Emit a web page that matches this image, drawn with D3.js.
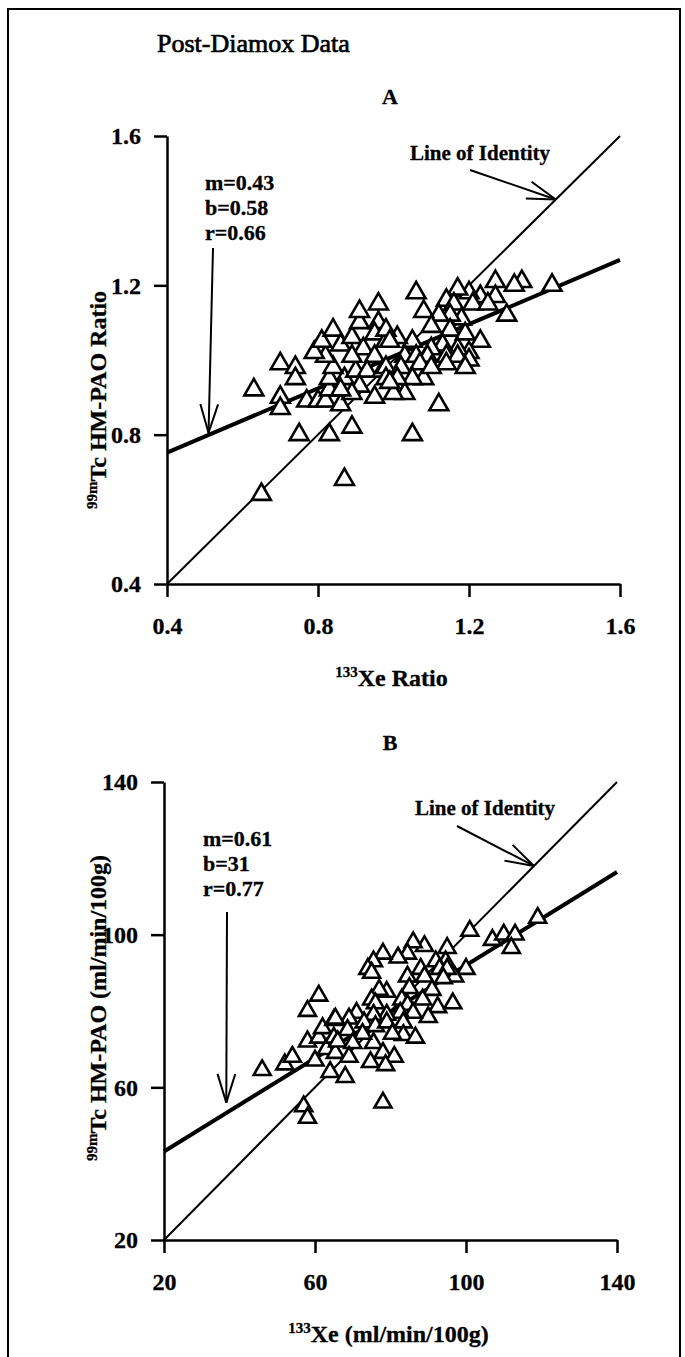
<!DOCTYPE html>
<html>
<head>
<meta charset="utf-8">
<script src="https://cdn.jsdelivr.net/npm/d3@7"></script>
<style>
  body { margin: 0; background: #fff; }
  text { font-family: "Liberation Serif", "Times New Roman", serif; font-weight: bold; fill: #000; stroke: #000; stroke-width: 0.3px; }
</style>
</head>
<body>
<div id="svg_chart"></div>
<script>
///////////// Data //////////////
// panel A: 133Xe ratio (x) vs 99mTc HM-PAO ratio (y)
var a_points = [
  [0.63,0.92],[0.70,0.99],[0.74,0.98],[0.74,0.95],[0.70,0.90],[0.70,0.87],[0.75,0.80],[0.83,0.80],
  [0.89,0.82],[0.87,0.68],[0.65,0.64],[0.77,0.89],[0.80,0.89],[0.82,0.89],[0.86,0.88],[0.83,0.92],
  [0.87,0.95],[0.83,0.95],[0.90,0.97],[0.84,0.98],[0.82,1.01],[0.79,1.02],[0.81,1.05],[0.84,1.08],
  [0.86,1.04],[0.89,1.06],[0.91,1.10],[0.91,1.13],[0.96,1.15],[0.96,1.10],[0.95,1.07],[0.92,1.03],
  [0.89,1.01],[0.95,1.01],[0.93,0.97],[0.91,0.93],[0.95,0.90],[0.89,0.91],[0.97,0.97],[0.98,1.05],
  [0.86,0.92],[1.06,1.18],[1.12,0.88],[1.05,0.80],[1.03,0.91],[1.00,0.91],[1.08,0.95],[1.42,1.20],
  [1.34,1.21],[1.32,1.20],[1.27,1.21],[1.30,1.12],[1.27,1.17],[1.23,1.17],[1.20,1.18],[1.17,1.19],
  [1.14,1.16],[1.16,1.15],[1.21,1.15],[1.25,1.15],[1.18,1.11],[1.15,1.12],[1.12,1.12],[1.08,1.13],
  [1.10,1.09],[1.15,1.08],[1.19,1.07],[1.23,1.05],[1.20,1.02],[1.17,1.03],[1.13,1.04],[1.10,1.03],
  [1.05,1.05],[1.01,1.06],[0.98,1.08],[0.99,1.05],[1.03,1.01],[1.06,1.01],[1.09,1.01],[1.14,1.01],
  [1.17,1.01],[1.20,1.00],[1.14,0.99],[1.19,0.98],[0.98,0.98],[1.02,0.98],[0.98,0.95],[1.07,0.99],
  [1.10,0.98],[1.05,0.95],[1.01,0.95],[0.99,0.94]
];
var a_ticks = [0.4, 0.8, 1.2, 1.6];
var a_fit = [0.43, 0.58, 0.66];   // m, b, r

// panel B: 133Xe flow (x) vs 99mTc HM-PAO flow (y), ml/min/100g
var b_points = [
  [61,84],[58,80],[46,64.5],[52,66],[54,68],[60,67],[58,72],[61,73],[62,75.5],[65,77.6],[64,64],
  [63,70],[65,73],[65.4,69],[101,101],[107,98.6],[110,100],[113,100],[112,96.5],[100,91],[97,89],
  [95,96.5],[94.6,93],[92,93],[89,97],[86,98],[84.5,95],[82,94],[78,95],[75.5,93],[74,91],[75,90],
  [84.5,89],[88,91],[89,89],[93,91],[95,91],[85,86],[91,85.5],[94,88.6],[79,85],[77,85.5],[75,83],
  [76,82],[83,83],[84.5,81.6],[88.5,83],[92.5,81],[96.5,82],[90,78.4],[86,79.5],[82.6,79.5],[79,79],
  [75.5,79],[71,79.5],[69,78],[73,77],[76,76],[79,77],[83.4,77],[83.4,73.7],[86.6,73],[80.5,74],
  [75.5,71.6],[72.6,74],[68.6,75],[65.4,78],[66,72],[70,71.6],[78,69],[81,68],[74.7,66.6],[78.7,65.8],
  [69,68],[68,62.7],[119,104.4],[57,55],[58,52],[78,56]
];
var b_ticks = [20, 60, 100, 140];
var b_fit = [0.61, 31, 0.77];

///////////// Canvas //////////////
const svg_width = 685
const svg_height = 1357

var svg = d3.select('#svg_chart').append('svg')
  .attr('width', svg_width)
  .attr('height', svg_height);

// outer frame of the figure
svg.append('rect')
  .attr('x', 8).attr('y', 9)
  .attr('width', 672).attr('height', 1400)
  .attr('fill', 'none')
  .attr('stroke', '#000')
  .attr('stroke-width', 2);

svg.append('text')
  .attr('x', 157).attr('y', 52)
  .style('font-size', '26px')
  .style('font-weight', 'normal')
  .style('stroke-width', '0.7px')
  .text('Post-Diamox Data');

///////////// Panels //////////////
function arrow(g, x1, y1, x2, y2, head){
  var ang = Math.atan2(y2 - y1, x2 - x1);
  g.append('line')
    .attr('x1', x1).attr('y1', y1).attr('x2', x2).attr('y2', y2)
    .attr('stroke', '#000').attr('stroke-width', 2);
  [-0.3, 0.3].forEach(function(da){
    g.append('line')
      .attr('x1', x2).attr('y1', y2)
      .attr('x2', x2 - head * Math.cos(ang + da))
      .attr('y2', y2 - head * Math.sin(ang + da))
      .attr('stroke', '#000').attr('stroke-width', 2);
  });
}

function draw_panel(p){
  var x = d3.scaleLinear().domain([p.ticks[0], p.ticks[3]]).range(p.x_range);
  var y = d3.scaleLinear().domain([p.ticks[0], p.ticks[3]]).range(p.y_range);
  var g = svg.append('g');

  // panel letter
  g.append('text')
    .attr('x', 390).attr('y', p.letter_y)
    .attr('text-anchor', 'middle')
    .style('font-size', '22px')
    .text(p.letter);

  // axes
  var x_axis = g.append('g')
    .attr('transform', `translate(0,${p.y_range[0]})`)
    .call(d3.axisBottom(x).tickValues(p.ticks).tickFormat(p.fmt)
      .tickSizeInner(13).tickSizeOuter(0).tickPadding(20));
  var y_axis = g.append('g')
    .attr('transform', `translate(${p.x_range[0]},0)`)
    .call(d3.axisLeft(y).tickValues(p.ticks).tickFormat(p.fmt)
      .tickSizeInner(13).tickSizeOuter(0).tickPadding(13));
  [x_axis, y_axis].forEach(function(a){
    a.selectAll('path, line').attr('stroke', '#000').attr('stroke-width', 2.5);
    a.selectAll('text')
      .style('font-family', '"Liberation Serif", serif')
      .style('font-weight', 'bold')
      .style('font-size', '24px')
      .attr('fill', '#000');
  });

  // axis titles with superscript isotopes
  var xt = g.append('text')
    .attr('x', (p.x_range[0] + p.x_range[1]) / 2 - 2)
    .attr('y', p.y_range[0] + 102)
    .attr('text-anchor', 'middle')
    .style('font-size', '24px');
  xt.append('tspan').attr('dy', -9).style('font-size', '15px').text('133');
  xt.append('tspan').attr('dy', 9).text(p.x_title);

  var yt = g.append('text')
    .attr('transform', `translate(106,${p.y_title_mid}) rotate(-90)`)
    .attr('text-anchor', 'middle')
    .style('font-size', '24px');
  yt.append('tspan').attr('dy', -9).style('font-size', '15px').text('99m');
  yt.append('tspan').attr('dy', 9).text(p.y_title);

  // line of identity and fitted regression line
  g.append('line')
    .attr('x1', x(p.ticks[0])).attr('y1', y(p.ticks[0]))
    .attr('x2', x(p.ticks[3])).attr('y2', y(p.ticks[3]))
    .attr('stroke', '#000').attr('stroke-width', 2);
  g.append('line')
    .attr('x1', x(p.ticks[0])).attr('y1', y(p.fit[0] * p.ticks[0] + p.fit[1]))
    .attr('x2', x(p.ticks[3])).attr('y2', y(p.fit[0] * p.ticks[3] + p.fit[1]))
    .attr('stroke', '#000').attr('stroke-width', 4);

  // data points as open triangles
  g.selectAll('path.pt').data(p.points).enter().append('path')
    .attr('class', 'pt')
    .attr('d', d3.symbol(d3.symbolTriangle, p.tri_size))
    .attr('transform', d => `translate(${x(d[0])},${y(d[1])})`)
    .attr('fill', '#fff')
    .attr('stroke', '#000')
    .attr('stroke-width', 2.6);

  // fit statistics
  var labels = ['m=' + p.fit[0], 'b=' + p.fit[1], 'r=' + p.fit[2]];
  labels.forEach(function(t, i){
    g.append('text')
      .attr('x', p.stat_x).attr('y', p.stat_y + i * 25)
      .style('font-size', '22px')
      .text(t);
  });
  arrow(g, p.stat_arrow[0], p.stat_arrow[1],
    x(p.stat_tip[0]), y(p.stat_tip[1]), 30);

  // identity label
  g.append('text')
    .attr('x', p.id_text[0]).attr('y', p.id_text[1])
    .style('font-size', '21px')
    .text('Line of Identity');
  arrow(g, p.id_arrow[0], p.id_arrow[1], x(p.id_tip), y(p.id_tip), 30);
}

draw_panel({
  letter: 'A', letter_y: 104,
  points: a_points, ticks: a_ticks, fit: a_fit, fmt: d3.format('.1f'),
  x_range: [167, 620], y_range: [584, 136],
  x_title: 'Xe Ratio', y_title: 'Tc HM-PAO Ratio', y_title_mid: 400,
  tri_size: 155,
  stat_x: 205, stat_y: 190, stat_arrow: [213, 248], stat_tip: [0.51, 0.805],
  id_text: [410, 160], id_arrow: [470, 170], id_tip: 1.43
});

draw_panel({
  letter: 'B', letter_y: 750,
  points: b_points, ticks: b_ticks, fit: b_fit, fmt: d3.format('d'),
  x_range: [164, 617], y_range: [1240, 782],
  x_title: 'Xe (ml/min/100g)', y_title: 'Tc HM-PAO (ml/min/100g)', y_title_mid: 1008,
  tri_size: 125,
  stat_x: 203, stat_y: 846, stat_arrow: [227, 912], stat_tip: [36.5, 56],
  id_text: [415, 815], id_arrow: [457, 826], id_tip: 118
});
</script>
</body>
</html>
